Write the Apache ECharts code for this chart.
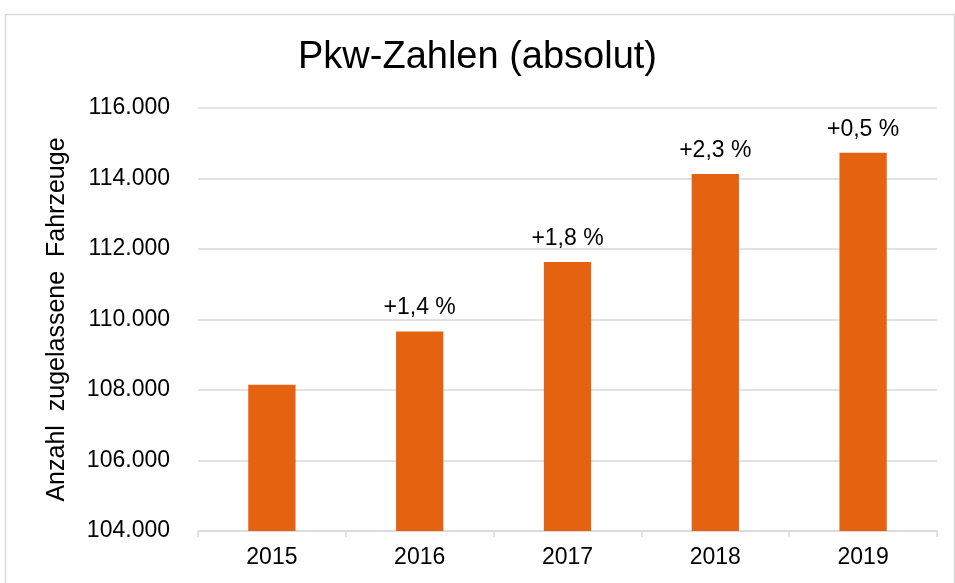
<!DOCTYPE html>
<html>
<head>
<meta charset="utf-8">
<script src="https://cdn.jsdelivr.net/npm/echarts@6/dist/echarts.min.js"></script>
<style>
  html, body { margin: 0; padding: 0; background: #fff; }
  #chart { width: 955px; height: 583px; }
</style>
</head>
<body>
<div id="chart"></div>
<script>
  // Pkw-Zahlen (absolut) — bars with year-on-year change labels
  const YEARS = ['2015', '2016', '2017', '2018', '2019'];
  const PKW = [108150, 109660, 111630, 114130, 114730];
  const CHANGE = ['', '+1,4 %', '+1,8 %', '+2,3 %', '+0,5 %'];

  const FONT = '"Liberation Sans", Arial, sans-serif';
  const BAR = '#E46210';

  const fmt = v => String(v).replace(/\B(?=(\d{3})+(?!\d))/g, '.');

  const chart = echarts.init(document.getElementById('chart'), null, { renderer: 'canvas' });
  chart.setOption({
    backgroundColor: '#fff',
    animation: false,
    graphic: [{
      type: 'rect', left: 3, top: 12, silent: true, z: -1,
      shape: { width: 949, height: 580 },
      style: { fill: 'none', stroke: '#d9d9d9', lineWidth: 1.5 }
    }],
    title: {
      text: 'Pkw-Zahlen (absolut)', left: 'center', top: 34,
      textStyle: { fontFamily: FONT, fontSize: 38, fontWeight: 'normal', color: '#000' }
    },
    grid: { left: 198, right: 18, top: 108, bottom: 52 },
    xAxis: {
      type: 'category', data: YEARS,
      axisLine: { lineStyle: { color: '#d9d9d9', width: 1.5 } },
      axisTick: { show: true, length: 6, lineStyle: { color: '#d9d9d9', width: 1.5 } },
      axisLabel: { color: '#000', fontFamily: FONT, fontSize: 23, margin: 15 }
    },
    yAxis: {
      type: 'value', min: 104000, max: 116000, interval: 2000,
      name: 'Anzahl  zugelassene  Fahrzeuge', nameLocation: 'middle', nameRotate: 90, nameGap: 128,
      nameTextStyle: { color: '#000', fontFamily: FONT, fontSize: 25 },
      axisLine: { show: false }, axisTick: { show: false },
      axisLabel: { color: '#000', fontFamily: FONT, fontSize: 23, margin: 28, formatter: fmt },
      splitLine: { lineStyle: { color: '#d9d9d9', width: 1.5 } }
    },
    series: [{
      type: 'bar', data: PKW, barWidth: '32%',
      itemStyle: { color: BAR },
      label: {
        show: true, position: 'top', distance: 12,
        color: '#000', fontFamily: FONT, fontSize: 23,
        formatter: p => CHANGE[p.dataIndex]
      }
    }]
  });
</script>
</body>
</html>
